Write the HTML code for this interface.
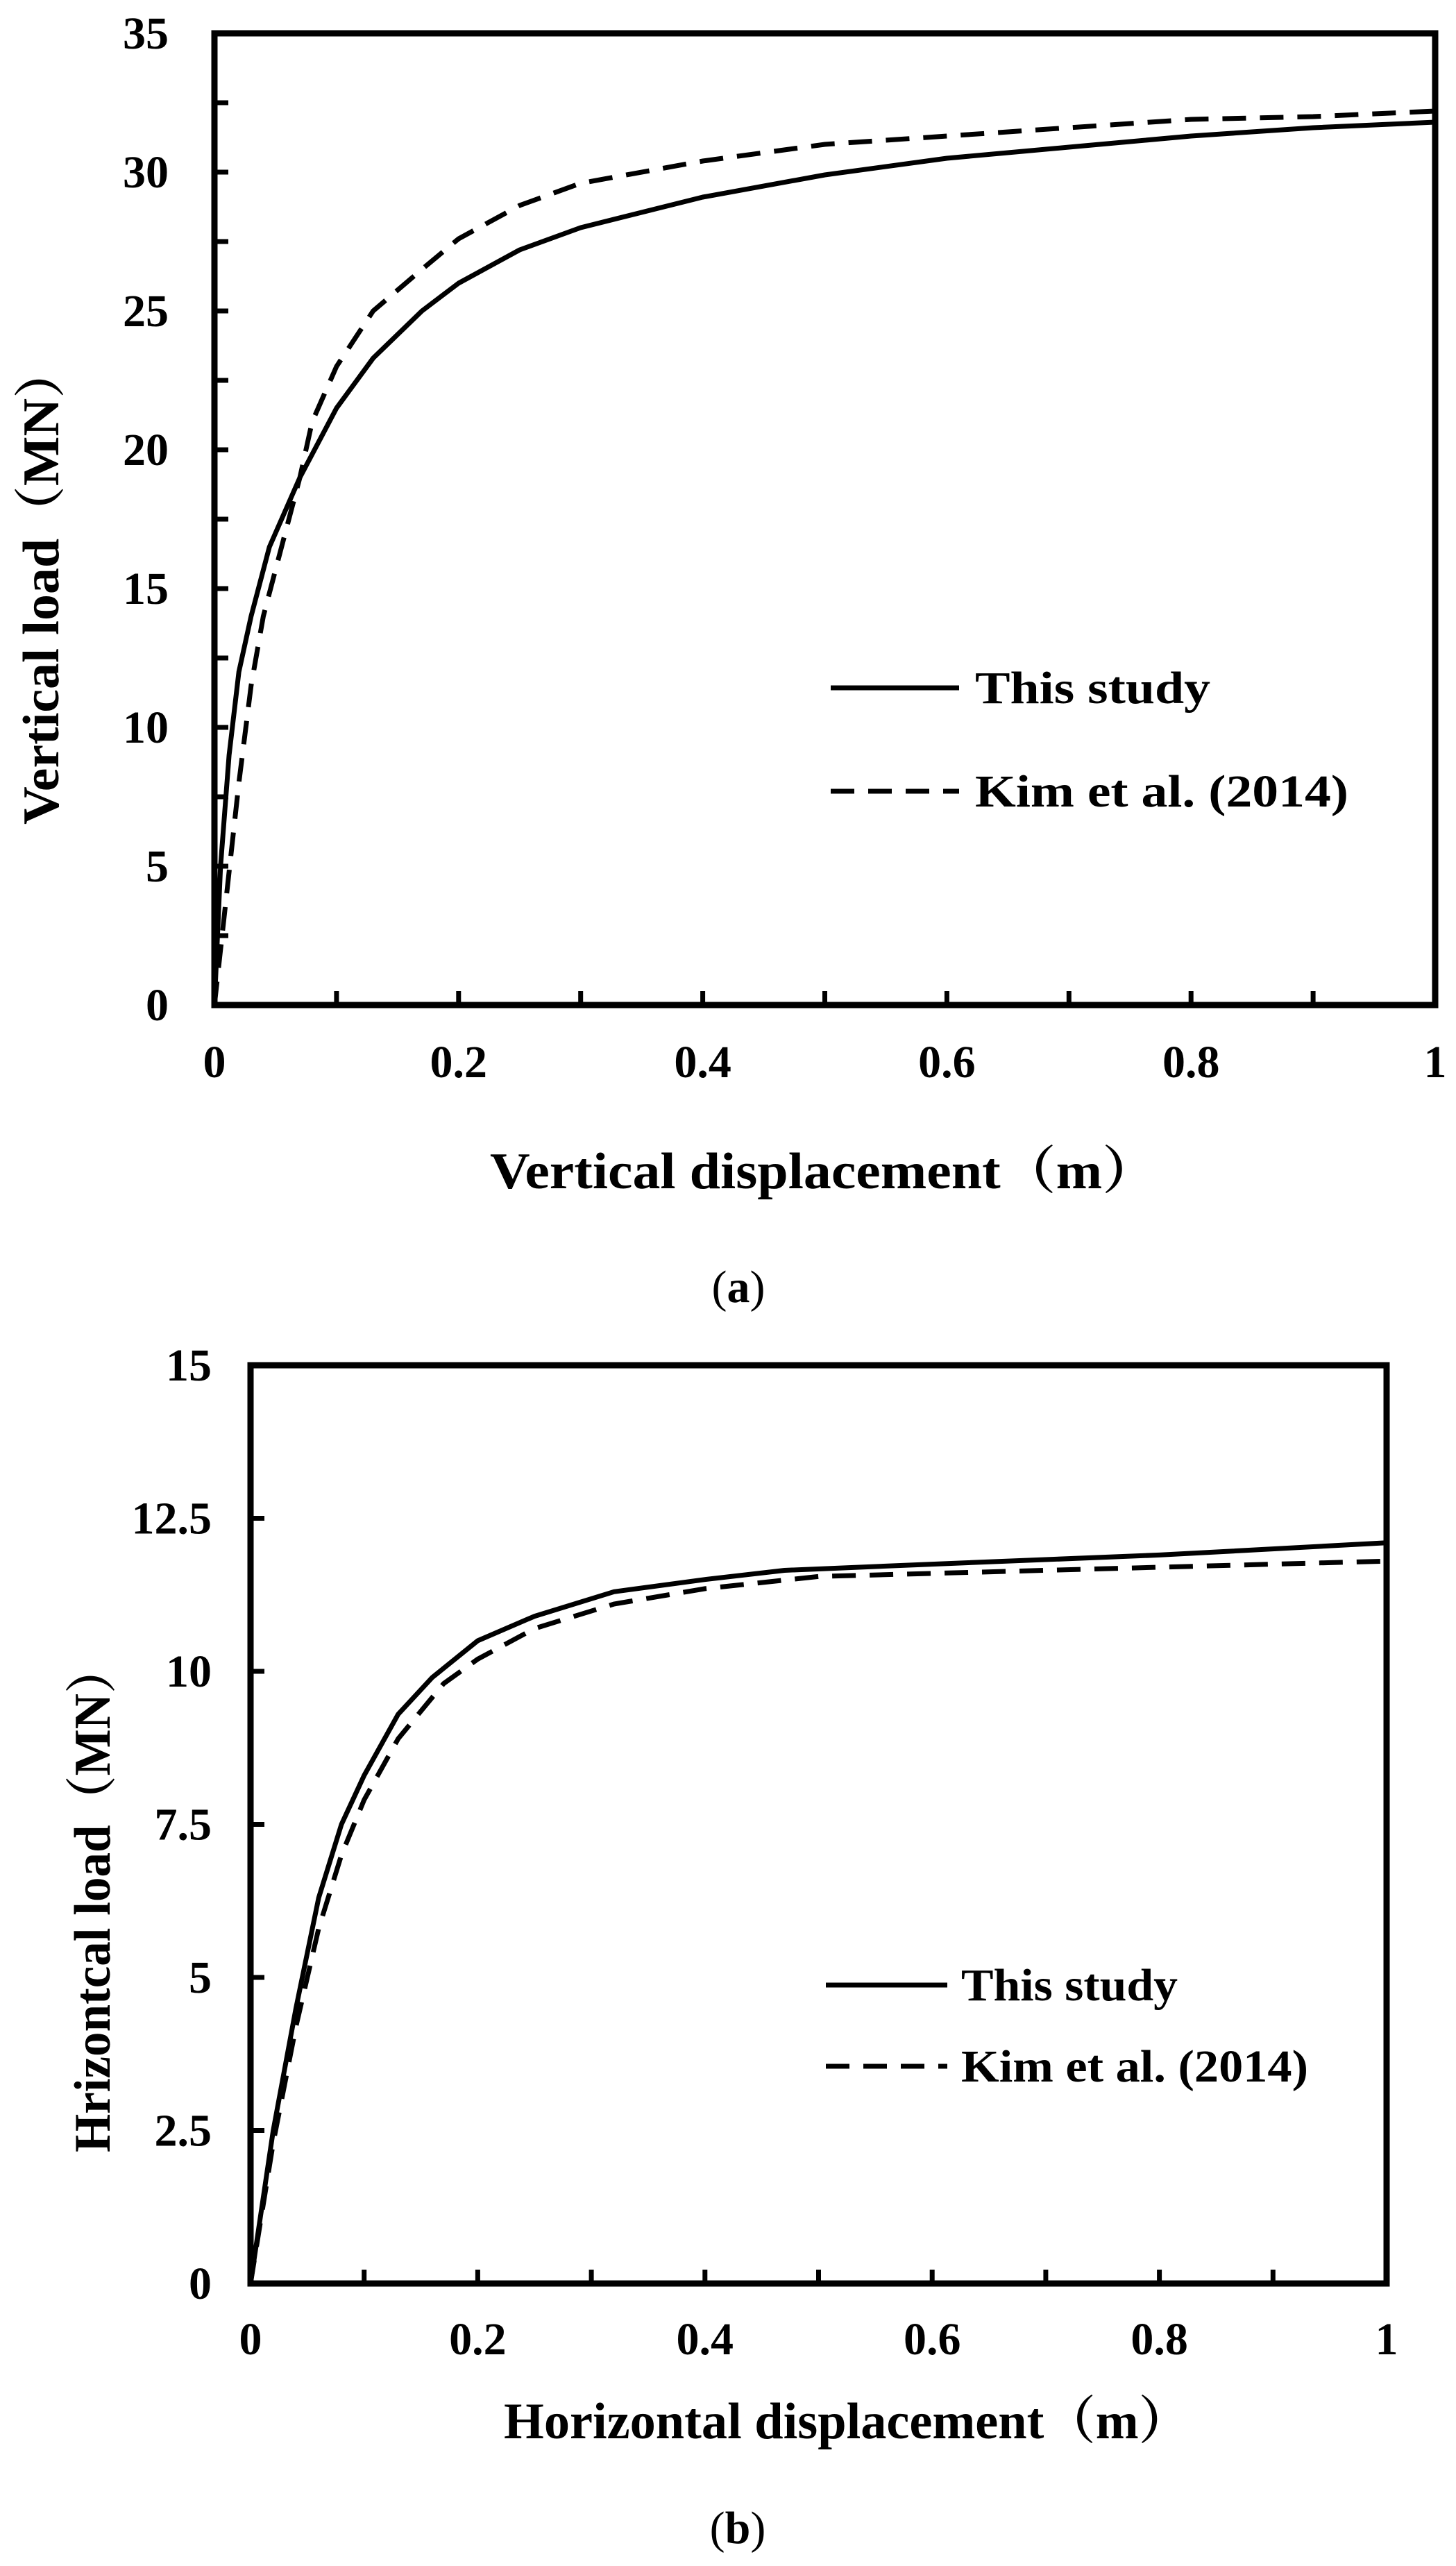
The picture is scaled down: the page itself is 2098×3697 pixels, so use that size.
<!DOCTYPE html>
<html><head><meta charset="utf-8"><style>html,body{margin:0;padding:0;background:#fff}svg{display:block}</style></head>
<body>
<svg xmlns="http://www.w3.org/2000/svg" width="2098" height="3697" viewBox="0 0 2098 3697">
<g font-family="'Liberation Serif','Noto Serif CJK SC',serif" font-weight="bold" fill="#000">
<!-- Plot a -->
<rect x="309" y="48" width="1759" height="1400" fill="none" stroke="#000" stroke-width="9"/>
<g stroke="#000" stroke-width="7">
<path d="M309 1348h20M309 1248h20M309 1148h20M309 1048h20M309 948h20M309 848h20M309 748h20M309 648h20M309 548h20M309 448h20M309 348h20M309 248h20M309 148h20"/>
<path d="M484.9 1448v-20M660.8 1448v-20M836.7 1448v-20M1012.6 1448v-20M1188.5 1448v-20M1364.4 1448v-20M1540.3 1448v-20M1716.2 1448v-20M1892.1 1448v-20"/>
</g>
<g font-size="66" text-anchor="end">
<text x="243" y="70">35</text><text x="243" y="270">30</text><text x="243" y="470">25</text><text x="243" y="670">20</text><text x="243" y="870">15</text><text x="243" y="1070">10</text><text x="243" y="1270">5</text><text x="243" y="1470">0</text>
</g>
<g font-size="66" text-anchor="middle">
<text x="309" y="1552">0</text><text x="660.8" y="1552">0.2</text><text x="1012.6" y="1552">0.4</text><text x="1364.4" y="1552">0.6</text><text x="1716.2" y="1552">0.8</text><text x="2068" y="1552">1</text>
</g>
<text x="706" y="1712" font-size="74" textLength="962" lengthAdjust="spacingAndGlyphs">Vertical  displacement（m）</text>
<text transform="translate(84,843) rotate(-90)" x="-345" y="0" font-size="74" textLength="690" lengthAdjust="spacingAndGlyphs">Vertical load（MN）</text>
<polyline fill="none" stroke="#000" stroke-width="7" stroke-linejoin="round" points="309,1448 317.8,1248 330.1,1088 344.2,968 361.8,888 388.2,788 432.1,688 484.9,588 537.7,516 608,448 660.8,408 748.8,360 836.7,328 1012.6,284 1188.5,252 1364.4,228 1540.3,212 1716.2,196 1892.1,184 2068,176"/>
<polyline fill="none" stroke="#000" stroke-width="7" stroke-dasharray="34,20" points="309,1448 326.6,1288 344.2,1128 361.8,988 379.4,888 405.7,788 432.1,688 449.7,608 484.9,528 537.7,448 608,388 660.8,344 748.8,296 836.7,264 1012.6,232 1188.5,208 1364.4,196 1540.3,184 1716.2,172 1892.1,168 2068,160"/>
<line x1="1197" y1="991" x2="1382" y2="991" stroke="#000" stroke-width="7"/>
<line x1="1197" y1="1140" x2="1382" y2="1140" stroke="#000" stroke-width="7" stroke-dasharray="34,20"/>
<text x="1405" y="1013" font-size="66" textLength="339" lengthAdjust="spacingAndGlyphs">This study</text>
<text x="1405" y="1162" font-size="66" textLength="538" lengthAdjust="spacingAndGlyphs">Kim et al. (2014)</text>
<text x="1064" y="1876" font-size="66" font-weight="normal" text-anchor="middle">(<tspan font-weight="bold">a</tspan>)</text>

<!-- Plot b -->
<rect x="361" y="1967" width="1637" height="1323" fill="none" stroke="#000" stroke-width="9"/>
<g stroke="#000" stroke-width="7">
<path d="M361 3069.5h20M361 2849h20M361 2628.5h20M361 2408h20M361 2187.5h20"/>
<path d="M524.7 3290v-20M688.4 3290v-20M852.1 3290v-20M1015.8 3290v-20M1179.5 3290v-20M1343.2 3290v-20M1506.9 3290v-20M1670.6 3290v-20M1834.3 3290v-20"/>
</g>
<g font-size="66" text-anchor="end">
<text x="305" y="1989">15</text><text x="305" y="2209.5">12.5</text><text x="305" y="2430">10</text><text x="305" y="2650.5">7.5</text><text x="305" y="2871">5</text><text x="305" y="3091.5">2.5</text><text x="305" y="3312">0</text>
</g>
<g font-size="66" text-anchor="middle">
<text x="361" y="3392">0</text><text x="688.4" y="3392">0.2</text><text x="1015.8" y="3392">0.4</text><text x="1343.2" y="3392">0.6</text><text x="1670.6" y="3392">0.8</text><text x="1998" y="3392">1</text>
</g>
<text x="726" y="3513" font-size="74" textLength="989" lengthAdjust="spacingAndGlyphs">Horizontal  displacement（m）</text>
<text transform="translate(158,2735) rotate(-90)" x="-366" y="0" font-size="74" textLength="732" lengthAdjust="spacingAndGlyphs">Hrizontcal load（MN）</text>
<polyline fill="none" stroke="#000" stroke-width="7" stroke-linejoin="round" points="361,3290 393.7,3069.5 426.5,2893.1 459.2,2734.3 492,2628.5 524.7,2558 573.8,2469.7 622.9,2416.8 688.4,2363.9 770.3,2328.6 884.8,2293.3 1015.8,2275.7 1130.4,2262.5 1343.2,2253.6 1670.6,2240.4 1998,2222.8"/>
<polyline fill="none" stroke="#000" stroke-width="7" stroke-dasharray="34,20" points="361,3290 393.7,3087.1 426.5,2919.6 459.2,2778.4 492,2672.6 524.7,2593.2 573.8,2505 639.3,2425.6 688.4,2390.4 770.3,2346.3 884.8,2311 1015.8,2288.9 1179.5,2271.3 1343.2,2266.9 1670.6,2258 1998,2249.2"/>
<line x1="1190" y1="2860" x2="1365" y2="2860" stroke="#000" stroke-width="7"/>
<line x1="1190" y1="2977" x2="1365" y2="2977" stroke="#000" stroke-width="7" stroke-dasharray="34,20"/>
<text x="1385" y="2882" font-size="66" textLength="312" lengthAdjust="spacingAndGlyphs">This study</text>
<text x="1385" y="2999" font-size="66" textLength="500" lengthAdjust="spacingAndGlyphs">Kim et al. (2014)</text>
<text x="1063" y="3664" font-size="66" font-weight="normal" text-anchor="middle">(<tspan font-weight="bold">b</tspan>)</text>
</g>
</svg>
</body></html>
